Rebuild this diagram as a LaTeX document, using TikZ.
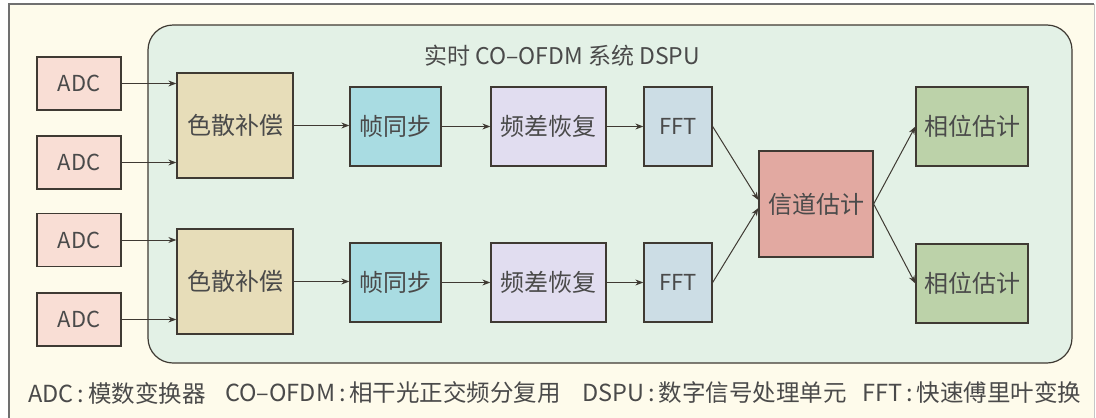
\documentclass[tikz,border=0pt]{standalone}
\usepackage{fontspec}
\setmainfont{Noto Sans CJK SC}
\usetikzlibrary{arrows.meta}
\definecolor{frameline}{HTML}{707070}
\definecolor{paper}{HTML}{FEFBEB}
\definecolor{dspbg}{HTML}{E3F1E6}
\definecolor{boxline}{HTML}{3F3A33}
\definecolor{txt}{HTML}{4A4A4A}
\definecolor{adcfill}{HTML}{F9DED5}
\definecolor{cdfill}{HTML}{E7DDB9}
\definecolor{syncfill}{HTML}{A9DCE2}
\definecolor{cfofill}{HTML}{E1DDF0}
\definecolor{fftfill}{HTML}{CCDDE5}
\definecolor{chfill}{HTML}{E2A9A1}
\definecolor{phfill}{HTML}{BCD2A9}
\newcommand{\blk}[7]{\node[box, fill=#6, minimum width=#4pt, minimum height=#5pt] (#1) at (#2,#3) {#7};}

\begin{document}
\begin{tikzpicture}[x=1pt, y=-1pt,
    box/.style={draw=boxline, line width=1.3pt, inner sep=0pt, text=txt,
                font=\fontsize{24}{24}\selectfont},
    flow/.style={-{Stealth[length=8pt,width=6pt]}, line width=1pt, draw=boxline},
    legend/.style={anchor=west, inner sep=0pt, text=txt, font=\fontsize{23.5}{23.5}\selectfont}]
    \useasboundingbox (0,0) rectangle (1096,418);
    % background and system frame
    \fill[paper] (9,4) rectangle (1094,418);
    \draw[frameline, line width=1.5pt] (9,418) -- (9,4) -- (1094,4);
    \draw[frameline!40, line width=1pt] (1094,4) -- (1094,418);
    \draw[fill=dspbg, draw=boxline, line width=1.2pt, rounded corners=25pt] (148,25) rectangle (1072,363);
    \node[text=txt, font=\fontsize{23}{23}\selectfont] (title) at (562,56) {实时 CO–OFDM 系统 DSPU};

    % blocks
    \blk{adc1}{79}{83.5}{84}{53}{adcfill}{\fontsize{22}{22}\selectfont ADC}
    \blk{adc2}{79}{162.5}{84}{53}{adcfill}{\fontsize{22}{22}\selectfont ADC}
    \blk{adc3}{79}{240}{84}{53}{adcfill}{\fontsize{22}{22}\selectfont ADC}
    \blk{adc4}{79}{319.5}{84}{53}{adcfill}{\fontsize{22}{22}\selectfont ADC}
    \blk{cd1}{235}{125.5}{116}{105}{cdfill}{色散补偿}
    \blk{cd2}{235}{281.5}{116}{105}{cdfill}{色散补偿}
    \blk{sync1}{395.5}{126.5}{91}{79}{syncfill}{帧同步}
    \blk{sync2}{395.5}{282.5}{91}{79}{syncfill}{帧同步}
    \blk{cfo1}{548.5}{126.5}{115}{79}{cfofill}{频差恢复}
    \blk{cfo2}{548.5}{282.5}{115}{79}{cfofill}{频差恢复}
    \blk{fft1}{678}{126.5}{68}{79}{fftfill}{\fontsize{22}{22}\selectfont FFT}
    \blk{fft2}{678}{282.5}{68}{79}{fftfill}{\fontsize{22}{22}\selectfont FFT}
    \blk{ch}{816}{204}{114}{106}{chfill}{信道估计}
    \blk{ph1}{972}{126.5}{112}{79}{phfill}{相位估计}
    \blk{ph2}{972}{283.5}{112}{79}{phfill}{相位估计}

    % connectors
    \draw[flow] (adc1.east) -- (adc1.east -| cd1.west);
    \draw[flow] (adc2.east) -- (adc2.east -| cd1.west);
    \draw[flow] (adc3.east) -- (adc3.east -| cd2.west);
    \draw[flow] (adc4.east) -- (adc4.east -| cd2.west);
    \draw[flow] (cd1.east) -- (cd1.east -| sync1.west);
    \draw[flow] (cd2.east) -- (cd2.east -| sync2.west);
    \draw[flow] (sync1) -- (cfo1);
    \draw[flow] (sync2) -- (cfo2);
    \draw[flow] (cfo1) -- (fft1);
    \draw[flow] (cfo2) -- (fft2);
    \draw[flow] (fft1.east) -- ([yshift=4pt]ch.west);
    \draw[flow] (fft2.east) -- ([yshift=-4pt]ch.west);
    \draw[flow] (ch.east) -- (ph1.west);
    \draw[flow] (ch.east) -- (ph2.west);

    % legend
    \node[legend] (lg1) at (28,393) {ADC\,:\,模数变换器};
    \node[legend] (lg2) at (225,393) {CO–OFDM\,:\,相干光正交频分复用};
    \node[legend] (lg3) at (582,393) {DSPU\,:\,数字信号处理单元};
    \node[legend] (lg4) at (862,393) {FFT\,:\,快速傅里叶变换};
\end{tikzpicture}
\end{document}
